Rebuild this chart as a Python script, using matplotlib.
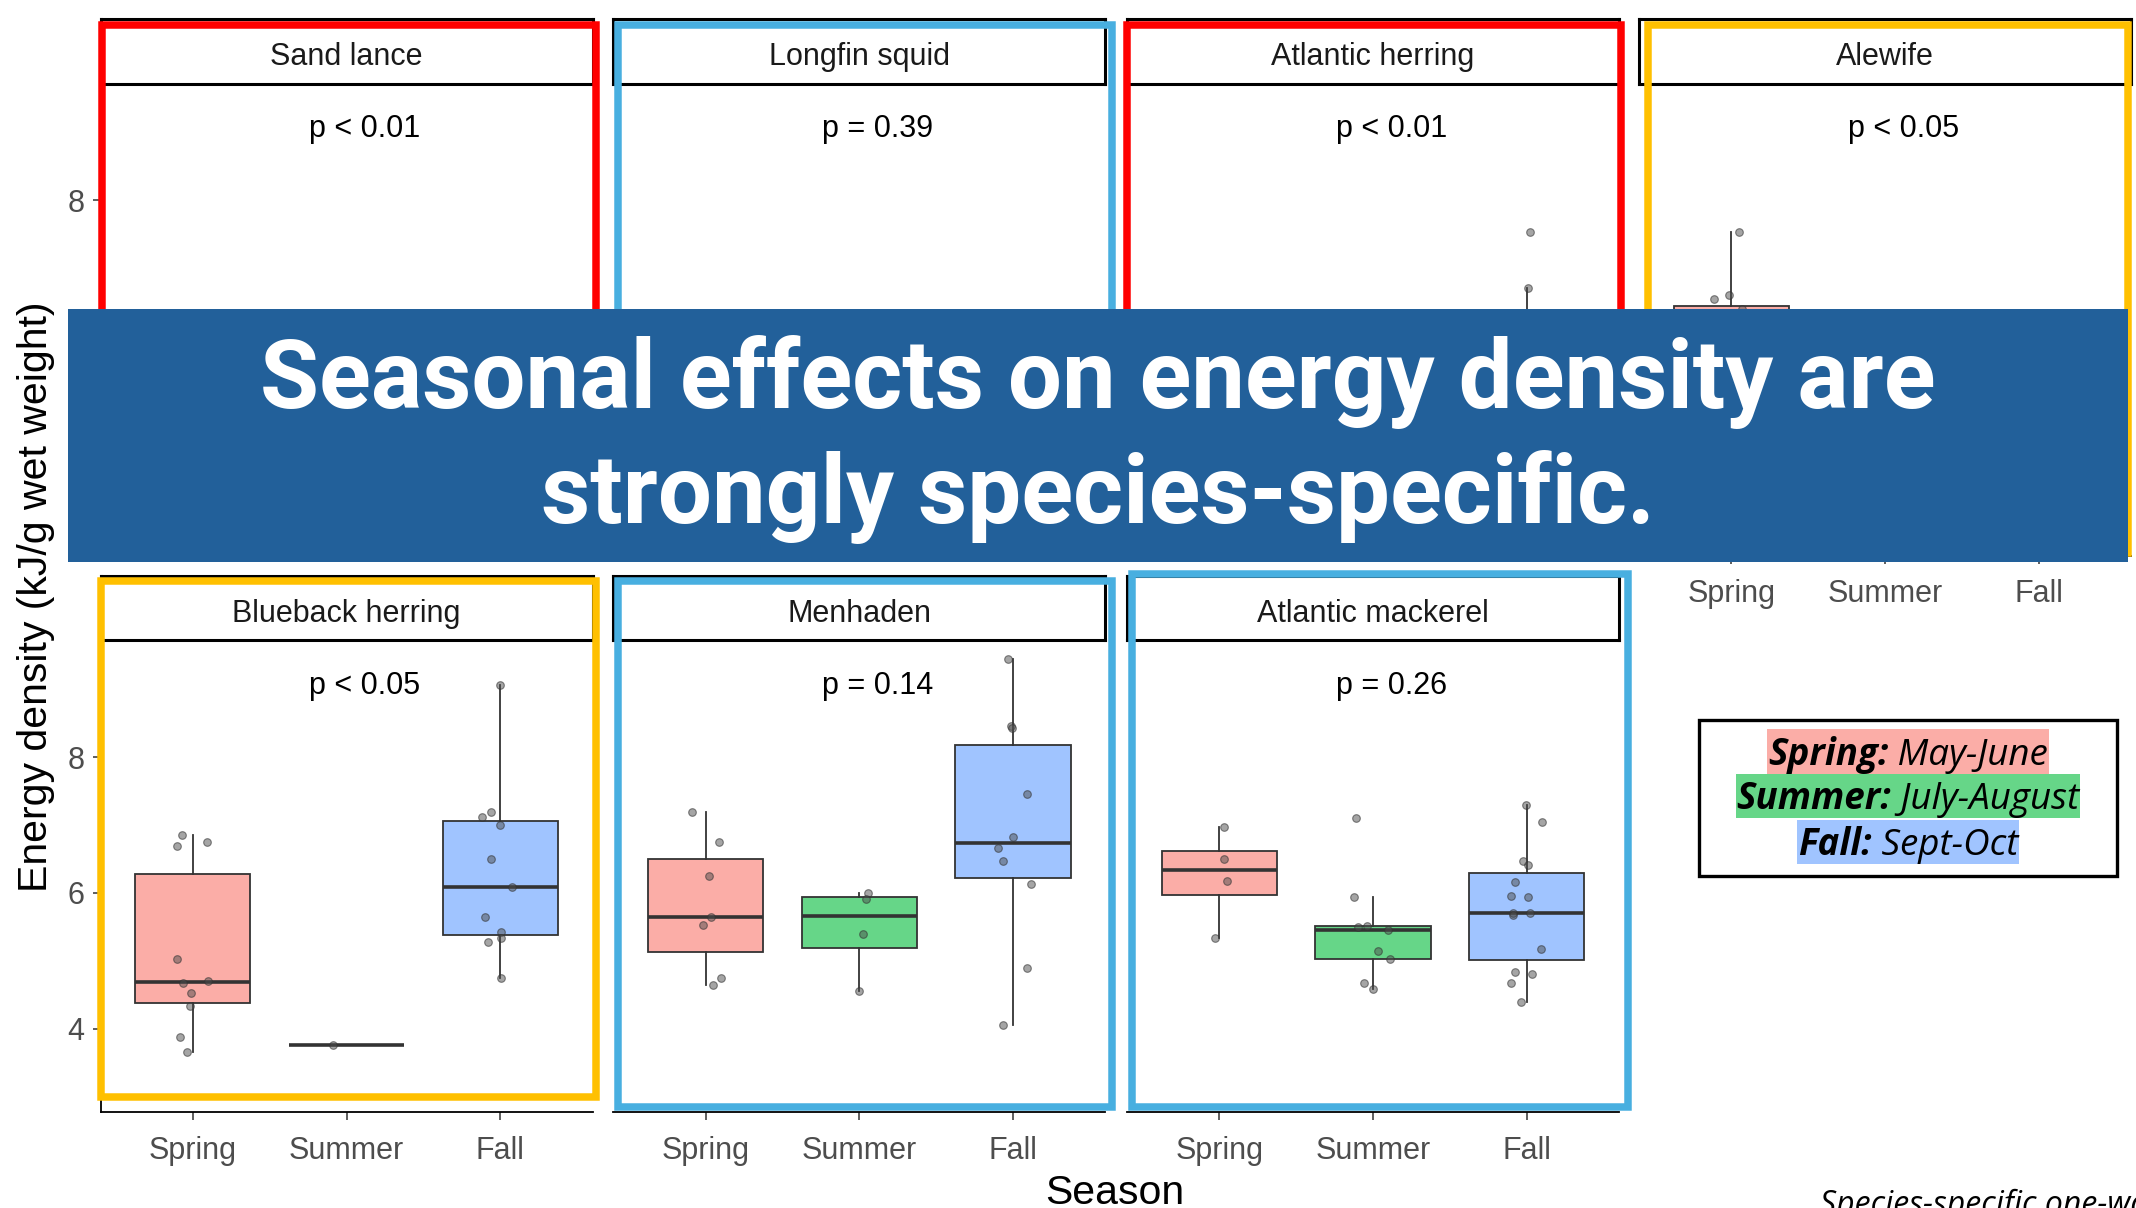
import numpy as np
import matplotlib
matplotlib.use("Agg")
import matplotlib.pyplot as plt
from matplotlib.patches import Rectangle
from matplotlib import font_manager

W, H = 2136, 1208

seasons = ["Spring", "Summer", "Fall"]
species = ["Sand lance", "Longfin squid", "Atlantic herring", "Alewife",
           "Blueback herring", "Menhaden", "Atlantic mackerel"]
p_labels = ["p < 0.01", "p = 0.39", "p < 0.01", "p < 0.05",
            "p < 0.05", "p = 0.14", "p = 0.26"]
frame_colors = ["#FF0000", "#48AFE0", "#FF0000", "#FFC000",
                "#FFC000", "#48AFE0", "#48AFE0"]
fill_colors = ["#FBADA7", "#66D688", "#A0C4FF"]

# energy density (kJ/g wet weight): [spring, summer, fall]
# top row is mostly hidden behind the banner
sand_lance = [[5.2, 5.6, 5.9, 6.1, 5.4], [4.1, 4.4, 4.6, 4.3], [5.0, 5.3, 4.8, 5.5]]
sand_lance_dx = [[-0.05, 0.08, -0.1, 0.03, 0.11], [0.06, -0.08, 0.02, 0.1], [-0.04, 0.09, -0.11, 0.03]]
longfin_squid = [[4.2, 4.5, 4.0, 4.4], [4.3, 4.6, 4.1], [4.5, 4.8, 4.3, 4.6]]
longfin_squid_dx = [[0.05, -0.09, 0.1, -0.02], [-0.06, 0.04, 0.09], [0.08, -0.05, -0.1, 0.02]]
atl_herring = [[4.6, 5.0, 4.4, 5.3, 4.9], [5.2, 5.6, 5.9, 5.4],
               [7.53, 6.71, 6.2, 6.0, 5.9, 5.8, 5.7, 5.5]]
atl_herring_dx = [[-0.07, 0.05, 0.1, -0.03, 0.02], [0.04, -0.1, 0.07, -0.02],
                  [0.02, 0.006, -0.08, 0.09, -0.04, 0.06, -0.11, 0.03]]
alewife = [[7.53, 6.61, 6.55, 6.40, 6.3, 6.1, 6.0, 5.8, 5.7, 5.5, 5.3, 5.0],
           [5.1, 5.4, 5.6, 5.3], [4.6, 4.9, 5.2, 4.8, 5.0]]
alewife_dx = [[0.05, -0.015, -0.11, 0.07, -0.05, 0.1, -0.08, 0.03, 0.11, -0.06, 0.02, -0.1],
              [0.07, -0.04, 0.1, -0.09], [-0.03, 0.08, -0.1, 0.05, 0.01]]
blueback = [[6.85, 6.69, 6.75, 5.02, 4.67, 4.70, 4.52, 4.33, 3.88, 3.66],
            [3.76],
            [9.06, 7.11, 7.19, 7.0, 6.5, 6.09, 5.65, 5.43, 5.27, 5.34, 4.74]]
blueback_dx = [[-0.07, -0.10, 0.09, -0.10, -0.065, 0.10, -0.01, -0.02, -0.08, -0.04],
               [-0.09],
               [0.0, -0.12, -0.06, 0.0, -0.06, 0.075, -0.10, 0.005, -0.08, 0.008, 0.005]]
menhaden = [[7.19, 6.75, 6.25, 5.65, 5.53, 4.74, 4.65],
            [6.0, 5.91, 5.40, 4.55],
            [9.44, 8.46, 8.42, 7.45, 6.82, 6.66, 6.47, 6.13, 4.89, 4.05]]
menhaden_dx = [[-0.09, 0.09, 0.02, 0.035, -0.02, 0.10, 0.045],
               [0.055, 0.04, 0.025, 0.0],
               [-0.035, -0.015, -0.005, 0.09, 0.0, -0.10, -0.065, 0.115, 0.09, -0.065]]
mackerel = [[6.97, 6.50, 6.18, 5.34],
            [7.10, 5.94, 5.50, 5.51, 5.46, 5.15, 5.03, 4.67, 4.58],
            [7.29, 7.04, 6.47, 6.41, 6.16, 5.96, 5.94, 5.71, 5.67, 5.71, 5.18, 4.83, 4.80, 4.67, 4.39]]
mackerel_dx = [[0.03, 0.03, 0.05, -0.025],
               [-0.11, -0.125, -0.095, -0.04, 0.10, 0.03, 0.11, -0.06, 0.0],
               [-0.007, 0.10, -0.023, 0.01, -0.076, -0.10, 0.01, -0.09, -0.088, 0.023, 0.093,
                -0.076, 0.035, -0.10, -0.035]]

all_data = [sand_lance, longfin_squid, atl_herring, alewife, blueback, menhaden, mackerel]
all_dx = [sand_lance_dx, longfin_squid_dx, atl_herring_dx, alewife_dx, blueback_dx,
          menhaden_dx, mackerel_dx]

legend_rows = [("Spring:", " May-June"), ("Summer:", " July-August"), ("Fall:", " Sept-Oct")]


def pick_family(cands, style=None, bold=False):
    for fam in cands:
        for f in font_manager.fontManager.ttflist:
            if f.name != fam:
                continue
            if style and f.style != style:
                continue
            w = f.weight if isinstance(f.weight, int) else (700 if "bold" in str(f.weight) else 400)
            if bold and w < 600:
                continue
            return fam
    return "DejaVu Sans"


sans = "Liberation Sans"
banner_font = pick_family(["Roboto", "Lato", "Open Sans"], bold=True)
ital_font = pick_family(["Open Sans", "Noto Sans", "Lato", "Liberation Sans"], style="italic", bold=True)

fig = plt.figure(figsize=(W / 100, H / 100), dpi=100)
fig.patch.set_facecolor("white")


def fx(x):
    return x / W


def fy(y):
    return 1 - y / H


col_left = [100.5, 613.4, 1127.0, 1639.0]
panel_w = 492
strip_top = [19, 575.7]
strip_h = 64.5
plot_h = 472
ylim = (2.77, 9.72)

for i, name in enumerate(species):
    row, col = i // 4, i % 4
    x0 = col_left[col]
    ptop = strip_top[row] + strip_h
    ax = fig.add_axes([fx(x0), fy(ptop + plot_h), panel_w / W, plot_h / H])

    groups = all_data[i]
    bp = ax.boxplot(groups, positions=[1, 2, 3], widths=0.75, whis=1.5,
                    showfliers=False, patch_artist=True, showcaps=False,
                    boxprops=dict(edgecolor="#333333", linewidth=1.3),
                    whiskerprops=dict(color="#333333", linewidth=1.3),
                    medianprops=dict(color="#333333", linewidth=2.6))
    for patch, c in zip(bp["boxes"], fill_colors):
        patch.set_facecolor(c)
    for k, (vals, dxs) in enumerate(zip(groups, all_dx[i])):
        xs = np.array(dxs) + k + 1
        ax.scatter(xs, vals, s=30, facecolor=(0.3, 0.3, 0.3, 0.5),
                   edgecolor=(0.2, 0.2, 0.2, 0.6), linewidth=0.8, zorder=5)
    ax.text(2.12, 8.93, p_labels[i], ha="center", va="baseline", fontsize=22,
            family=sans, color="black")

    ax.set_xlim(0.4, 3.6)
    ax.set_ylim(*ylim)
    ax.set_xticks([1, 2, 3], seasons)
    ax.set_yticks([4, 6, 8], ["4", "6", "8"])
    for s in ["top", "right"]:
        ax.spines[s].set_visible(False)
    show_y = col == 0
    show_x = row == 1 or col == 3
    ax.spines["left"].set_visible(show_y)
    ax.spines["bottom"].set_visible(show_x)
    for s in ["left", "bottom"]:
        ax.spines[s].set_linewidth(1.3)
        ax.spines[s].set_color("black")
    ax.tick_params(axis="both", labelsize=22, colors="#333333", labelcolor="#4D4D4D",
                   length=5.5, width=1.1)
    ax.tick_params(axis="x", pad=11.5, bottom=show_x, labelbottom=show_x)
    ax.tick_params(axis="y", pad=6, left=show_y, labelleft=show_y)
    for lab in ax.get_xticklabels() + ax.get_yticklabels():
        lab.set_fontfamily(sans)

    sax = fig.add_axes([fx(x0), fy(ptop), panel_w / W, strip_h / H])
    sax.set_xticks([])
    sax.set_yticks([])
    for s in sax.spines.values():
        s.set_linewidth(2.2)
        s.set_color("black")
    sax.text(0.5, (strip_h - 46) / strip_h, name, ha="center", va="baseline", fontsize=22,
             family=sans, color="#1A1A1A", transform=sax.transAxes)

# coloured frames around the panels (centre lines, px)
frame_boxes = [(101.5, 24.5, 595.5, 553), (617.5, 24.5, 1111.5, 553),
               (1127, 24.5, 1621, 553), (1647.5, 24.5, 2128, 553),
               (100.8, 581, 595.7, 1096.5), (617.5, 581, 1112, 1107),
               (1132, 574, 1627.7, 1107)]
for (l, t, r, b), c in zip(frame_boxes, frame_colors):
    fig.add_artist(Rectangle((fx(l), fy(b)), (r - l) / W, (b - t) / H, fill=False,
                             edgecolor=c, linewidth=5.4, joinstyle="miter",
                             transform=fig.transFigure, zorder=10))

# axis titles
fig.text(fx(36), fy(597), "Energy density (kJ/g wet weight)", rotation=90,
         ha="center", va="center", fontsize=29.5, family=sans, color="black")
fig.text(fx(1115), fy(1204), "Season", ha="center", va="baseline", fontsize=29.5,
         family=sans, color="black")

# banner
fig.add_artist(Rectangle((fx(68), fy(561.7)), (2128 - 68) / W, (561.7 - 309) / H,
                         facecolor="#22609A", edgecolor="none",
                         transform=fig.transFigure, zorder=20))
fig.text(fx(1098), fy(408.3), "Seasonal effects on energy density are", ha="center",
         va="baseline", fontsize=69, fontweight="bold", family=banner_font,
         color="white", zorder=21)
fig.text(fx(1098), fy(523.3), "strongly species-specific.", ha="center",
         va="baseline", fontsize=69, fontweight="bold", family=banner_font,
         color="white", zorder=21)

# season legend box
fig.add_artist(Rectangle((fx(1699), fy(876)), (2116.7 - 1699) / W, (876 - 719.6) / H,
                         fill=False, edgecolor="black", linewidth=2.4,
                         transform=fig.transFigure, zorder=20))
renderer = fig.canvas.get_renderer()
band_top = [729, 773.5, 819.6]
band_h = 44.8
cx = 1908
for k, (lab, rest) in enumerate(legend_rows):
    base = band_top[k] + band_h - 9
    t1 = fig.text(0, 0, lab, fontsize=26.5, fontweight="bold", style="italic",
                  family=ital_font, ha="left", va="baseline", zorder=22)
    t2 = fig.text(0, 0, rest, fontsize=26.5, style="italic", family=ital_font,
                  ha="left", va="baseline", zorder=22)
    w1 = t1.get_window_extent(renderer).width
    w2 = t2.get_window_extent(renderer).width
    xl = cx - (w1 + w2) / 2
    t1.set_position((fx(xl), fy(base)))
    t2.set_position((fx(xl + w1), fy(base)))
    fig.add_artist(Rectangle((fx(xl - 1), fy(band_top[k] + band_h)), (w1 + w2 + 2) / W,
                             band_h / H, facecolor=fill_colors[k], edgecolor="none",
                             transform=fig.transFigure, zorder=21))

# caption, cut at the figure edge as in the original slide
fig.text(fx(1820), fy(1189), "Species-specific one-way ANOVA", ha="left", va="top",
         fontsize=23, style="italic", family=ital_font, color="black")

fig.savefig("out.png", dpi=100)
